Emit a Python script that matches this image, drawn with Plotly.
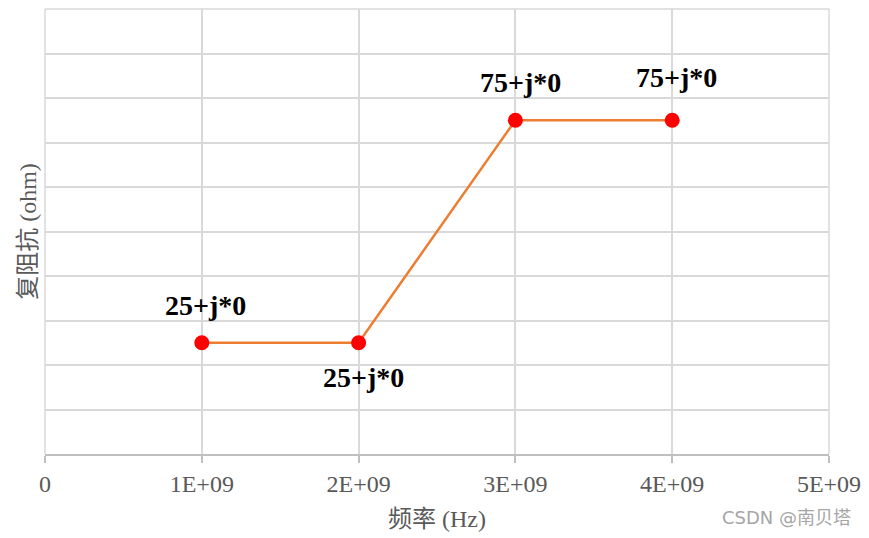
import plotly.graph_objects as go

# Data
freq_hz = [1e9, 2e9, 3e9, 4e9]
impedance_ohm = [25, 25, 75, 75]
point_labels = ["25+j*0", "25+j*0", "75+j*0", "75+j*0"]
x_tick_vals = [0, 1e9, 2e9, 3e9, 4e9, 5e9]
x_tick_text = ["0", "1E+09", "2E+09", "3E+09", "4E+09", "5E+09"]
x_title = "频率 (Hz)"
y_title = "复阻抗 (ohm)"
watermark = "CSDN @南贝塔"

label_yshift = [37, -35, 38, 43]
label_xshift = [4, 5, 5, 4]

SERIF = "Liberation Serif, Noto Sans CJK SC, serif"
GRID = "#d9d9d9"
AXIS = "#bfbfbf"
TEXT = "#595959"

fig = go.Figure()
fig.add_trace(go.Scatter(
    x=freq_hz, y=impedance_ohm, mode="lines+markers",
    line=dict(color="#ED7D31", width=2.5),
    marker=dict(color="#FF0000", size=15),
    showlegend=False, hoverinfo="skip",
))

for xv, yv, t, dy, dx in zip(freq_hz, impedance_ohm, point_labels, label_yshift, label_xshift):
    fig.add_annotation(
        x=xv, y=yv, text=f"<b>{t}</b>", showarrow=False,
        yshift=dy, xshift=dx,
        font=dict(family=SERIF, size=28, color="#000000"),
    )

fig.add_annotation(
    xref="paper", yref="paper", x=1.0306, y=-0.1435,
    xanchor="right", yanchor="middle",
    text=watermark, showarrow=False,
    font=dict(family="DejaVu Sans, Noto Sans CJK SC, sans-serif", size=18, color="#a6a6a6"),
)

# grid lines at the plot edges (plotly omits them at range ends)
for x0, y0, x1, y1 in [(0, 0, 0, 1), (1, 0, 1, 1), (0, 1, 1, 1)]:
    fig.add_shape(type="line", xref="paper", yref="paper", x0=x0, y0=y0, x1=x1, y1=y1,
                  line=dict(color=GRID, width=1.5), layer="below")

fig.update_layout(
    width=861, height=530,
    margin=dict(l=37, r=40, t=1, b=84),
    paper_bgcolor="white", plot_bgcolor="white",
    font=dict(family=SERIF, color=TEXT),
    xaxis=dict(
        range=[0, 5e9], tickvals=x_tick_vals, ticktext=x_tick_text,
        showgrid=True, gridcolor=GRID, gridwidth=1.5, zeroline=False,
        showline=True, linecolor=AXIS, linewidth=2,
        ticks="outside", ticklen=7, tickcolor=AXIS, tickwidth=2,
        tickfont=dict(family=SERIF, size=24, color=TEXT),
        title=dict(text=x_title, font=dict(family=SERIF, size=24, color=TEXT), standoff=14),
        automargin=False,
    ),
    yaxis=dict(
        range=[0, 100], dtick=10, showticklabels=False,
        showgrid=True, gridcolor=GRID, gridwidth=1.5, zeroline=False,
        showline=False,
        title=dict(text=y_title, font=dict(family=SERIF, size=24, color=TEXT), standoff=0),
        automargin=False,
    ),
)

fig.write_html("out.html")
